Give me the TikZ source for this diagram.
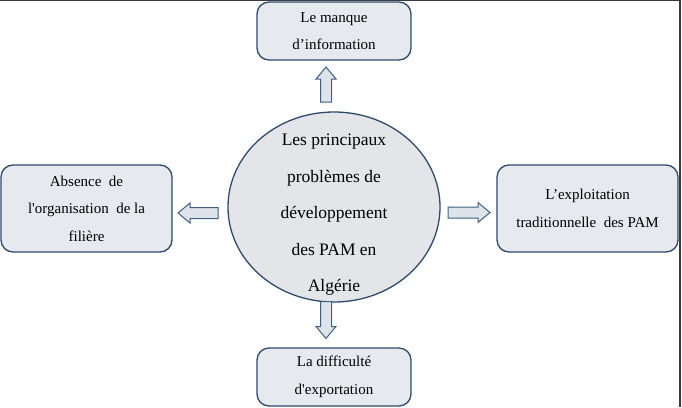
\documentclass[tikz,border=0pt]{standalone}
\usepackage{fontspec}
\setmainfont{Liberation Serif}
\usetikzlibrary{shapes.geometric}
\definecolor{boxline}{HTML}{2E4A6B}
\definecolor{boxfill}{HTML}{E6E9EE}
\definecolor{ellfill}{HTML}{E3E5E9}
\definecolor{arrline}{HTML}{3F5F80}
\definecolor{arrfill}{HTML}{DDE3EB}
\definecolor{framec}{HTML}{3A3A3A}
\tikzset{
  probbox/.style={draw=boxline, fill=boxfill, line width=1.3pt, rounded corners=12pt,
    align=center, inner sep=0pt, font=\fontsize{15}{27.5}\selectfont},
  blockarr/.style={draw=arrline, fill=arrfill, line width=1pt, line join=miter},
}
% block arrow: #1 = centre coordinate name, #2 = angle, #3 = length
\newcommand\mblockarrow[3]{%
  \begin{scope}[shift={(#1)}, rotate=#2]
  \draw[blockarr] (-#3/2,-5.5) -- (#3/2-12,-5.5) -- (#3/2-12,-10) -- (#3/2,0)
    -- (#3/2-12,10) -- (#3/2-12,5.5) -- (-#3/2,5.5) -- cycle;
  \end{scope}}
\begin{document}
\begin{tikzpicture}[x=1pt,y=1pt]
\useasboundingbox (0,0) rectangle (682,-407);
\draw[framec, line width=1.5pt] (0,-0.6) -- (680.2,-0.6) -- (680.2,-407);
\node[ellipse, draw=boxline, fill=ellfill, line width=1.3pt, minimum width=212pt, minimum height=190pt,
  inner sep=0pt] (ell) at (334,-207) {};
\node[align=center, font=\fontsize{17.5}{36.5}\selectfont] (etxt) at (334,-215)
  {Les principaux\\problèmes de\\développement\\des PAM en\\Algérie};
\node[probbox, minimum width=154pt, minimum height=58pt] (top) at (334,-31)
  {Le manque\\d’information};
\node[probbox, minimum width=154pt, minimum height=58pt] (bot) at (334,-377)
  {La difficulté\\d\textquotesingle exportation};
\node[probbox, minimum width=171pt, minimum height=87pt] (left) at (86.5,-208.5)
  {Absence\ \ de\\l\textquotesingle organisation\ \ de la\\filière};
\node[probbox, minimum width=181pt, minimum height=87pt] (right) at (587.5,-208.5)
  {L’exploitation\\traditionnelle\ \ des PAM};
\coordinate (aup) at (326,-84.5);
\coordinate (adown) at (326,-320);
\coordinate (aleft) at (198,-213);
\coordinate (aright) at (469,-212.5);
\mblockarrow{aup}{90}{35}
\mblockarrow{adown}{-90}{37}
\mblockarrow{aleft}{180}{40}
\mblockarrow{aright}{0}{42}
\end{tikzpicture}
\end{document}
